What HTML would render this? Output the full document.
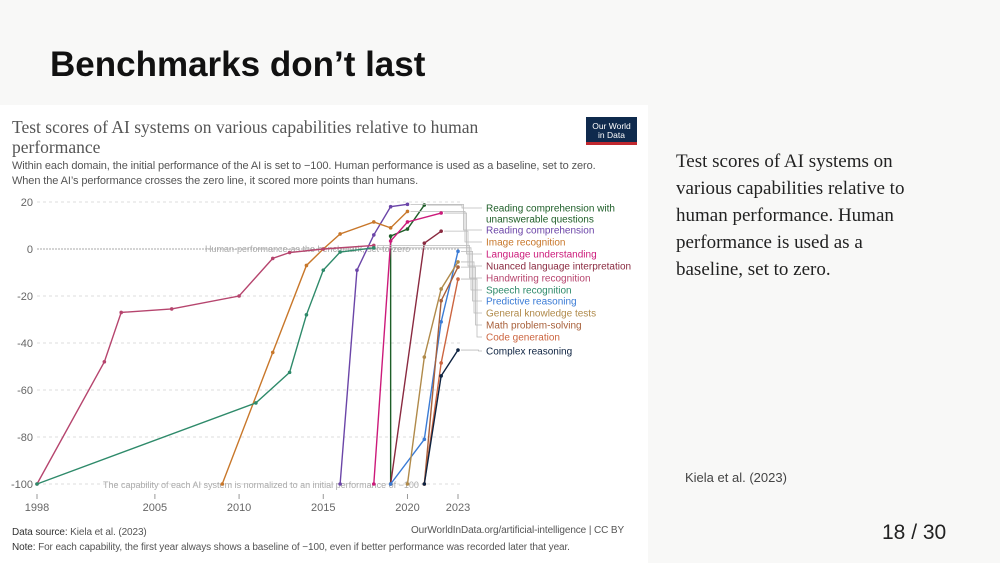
<!DOCTYPE html>
<html><head><meta charset="utf-8"><style>
body{margin:0;width:1000px;height:563px;overflow:hidden;background:#f8f8f7;font-family:"Liberation Sans",sans-serif;position:relative}
.abs{position:absolute}
</style></head><body>
<div class="abs" style="left:50px;top:45px;font-size:35px;font-weight:bold;color:#111;letter-spacing:0px">Benchmarks don’t last</div>
<div class="abs" style="left:0;top:105px;width:648px;height:458px;background:#fff"></div>
<div class="abs" style="left:12px;top:117px;width:500px;font-family:'Liberation Serif',serif;font-size:17.5px;line-height:20px;color:#555">Test scores of AI systems on various capabilities relative to human performance</div>
<div class="abs" style="left:586px;top:117px;width:51px;height:28px;background:#0f2a4d;border-bottom:3px solid #c0282f;color:#fff;font-size:8.5px;line-height:9px;text-align:center;box-sizing:border-box;padding-top:5px">Our World<br>in Data</div>
<div class="abs" style="left:12px;top:159px;font-size:11px;line-height:15px;color:#555;letter-spacing:-0.1px">Within each domain, the initial performance of the AI is set to −100. Human performance is used as a baseline, set to zero.<br>When the AI’s performance crosses the zero line, it scored more points than humans.</div>
<div class="abs" style="left:12px;top:525px;font-size:10px;line-height:15px;color:#555;letter-spacing:-0.1px"><b style="color:#333;font-weight:normal">Data source:</b> Kiela et al. (2023)<br><span style="color:#333">Note:</span> For each capability, the first year always shows a baseline of −100, even if better performance was recorded later that year.</div>
<div class="abs" style="left:411px;top:525px;font-size:10px;color:#555;letter-spacing:-0.1px">OurWorldInData.org/artificial-intelligence | CC BY</div>
<svg class="abs" id="chart" style="left:0;top:0" width="648" height="563"></svg>
<div class="abs" style="left:676px;top:148px;width:300px;font-family:'Liberation Serif',serif;font-size:19px;line-height:27px;color:#222">Test scores of AI systems on<br>various capabilities relative to<br>human performance. Human<br>performance is used as a<br>baseline, set to zero.</div>
<div class="abs" style="left:685px;top:470px;font-size:13px;color:#444">Kiela et al. (2023)</div>
<div class="abs" style="left:882px;top:521px;font-size:21px;color:#222">18 / 30</div>
<script>
const yTicks=[20,0,-20,-40,-60,-80,-100];
const xTicks=[1998,2005,2010,2015,2020,2023];
const seriesNames=["Reading comprehension with\nunanswerable questions","Reading comprehension","Image recognition","Language understanding","Nuanced language interpretation","Handwriting recognition","Speech recognition","Predictive reasoning","General knowledge tests","Math problem-solving","Code generation","Complex reasoning"];
const seriesColors=["#1e5e28","#6b45a8","#c8772a","#cc1a7a","#8a2a40","#b6456e","#2e8a6a","#3a7bd5","#b08a4a","#a8603a","#cc6540","#0d2240"];
const labelY=[208,230,242,254,266,278,290,301,313,325,337,351];
const s0Years=[2019,2019,2020,2021], s0Vals=[-100,5.5,8.5,18.7];
const s1Years=[2016,2017,2018,2019,2020], s1Vals=[-100,-9,6,18,19];
const s2Years=[2009,2012,2014,2015,2016,2018,2019,2020], s2Vals=[-100,-44,-7,0,6.4,11.5,9,16];
const s3Years=[2018,2019,2020,2022], s3Vals=[-100,3.4,11.5,15.3];
const s4Years=[2019,2021,2022], s4Vals=[-100,2.5,7.6];
const s5Years=[1998,2002,2003,2006,2010,2012,2013,2015,2018], s5Vals=[-100,-48,-27,-25.5,-20,-4,-1.5,0,1.5];
const s6Years=[1998,2011,2013,2014,2015,2016,2018], s6Vals=[-100,-65.5,-52.5,-28,-9,-1.3,0.5];
const s7Years=[2019,2021,2022,2023], s7Vals=[-100,-81,-31,-1];
const s8Years=[2020,2021,2022,2023], s8Vals=[-100,-46,-17,-5.5];
const s9Years=[2021,2022,2023], s9Vals=[-100,-22,-7.7];
const s10Years=[2021,2022,2023], s10Vals=[-100,-48.5,-12.8];
const s11Years=[2021,2022,2023], s11Vals=[-100,-54,-43];
const allYears=[s0Years,s1Years,s2Years,s3Years,s4Years,s5Years,s6Years,s7Years,s8Years,s9Years,s10Years,s11Years];
const allVals=[s0Vals,s1Vals,s2Vals,s3Vals,s4Vals,s5Vals,s6Vals,s7Vals,s8Vals,s9Vals,s10Vals,s11Vals];
const NS="http://www.w3.org/2000/svg";
const svg=document.getElementById('chart');
const X=y=>37+(y-1998)*(421/25);
const Y=v=>249-v*2.35;
function mk(t,a,p){const e=document.createElementNS(NS,t);for(const k in a)e.setAttribute(k,a[k]);(p||svg).appendChild(e);return e;}
yTicks.forEach(v=>{
  const l=mk('line',{x1:37,x2:460,y1:Y(v),y2:Y(v),stroke:v===0?'#bbb':'#ddd','stroke-dasharray':v===0?'2,1':'3,3','stroke-width':v===0?1.2:1});
  
  
  const t=mk('text',{x:33,y:Y(v)+4,'text-anchor':'end','font-size':11,fill:'#666'});t.textContent=v;
  
  
});
xTicks.forEach(y=>{
  mk('line',{x1:X(y),x2:X(y),y1:494,y2:499,stroke:'#999'});
  const t=mk('text',{x:X(y),y:511,'text-anchor':'middle','font-size':11,fill:'#666'});t.textContent=y;
  
  
});
const a1=mk('text',{x:205,y:252,'font-size':9,fill:'#aaa'});a1.textContent='Human-performance-as the benchmark, set-to-zero';


const a2=mk('text',{x:103,y:488,'font-size':9,fill:'#aaa'});a2.textContent='The capability of each AI system is normalized to an initial performance of −100';


allYears.forEach((ys,i)=>{
  const vs=allVals[i],c=seriesColors[i];
  const pts=ys.map((y,j)=>X(y)+','+Y(vs[j])).join(' ');
  const pl=mk('polyline',{points:pts,fill:'none',stroke:c,'stroke-width':1.4});
  
  
  ys.forEach((y,j)=>{const d=mk('circle',{cx:X(y),cy:Y(vs[j]),r:1.8,fill:c});
    
    });
  const ex=X(ys[ys.length-1]),ey=Y(vs[vs.length-1]);
  const lx=484,ly=labelY[i],mx=462+i*1.5;
  mk('polyline',{points:`${ex+3},${ey} ${mx},${ey} ${mx},${ly} ${lx-2},${ly}`,fill:'none',stroke:'#bbb','stroke-width':0.8});
  const t=mk('text',{x:486,y:ly+3.5,'font-size':10,fill:c});
  seriesNames[i].split('\n').forEach((s,k)=>{const ts=mk('tspan',{x:486,dy:k?11:0},t);ts.textContent=s;});
  
  
});
</script>
</body></html>
